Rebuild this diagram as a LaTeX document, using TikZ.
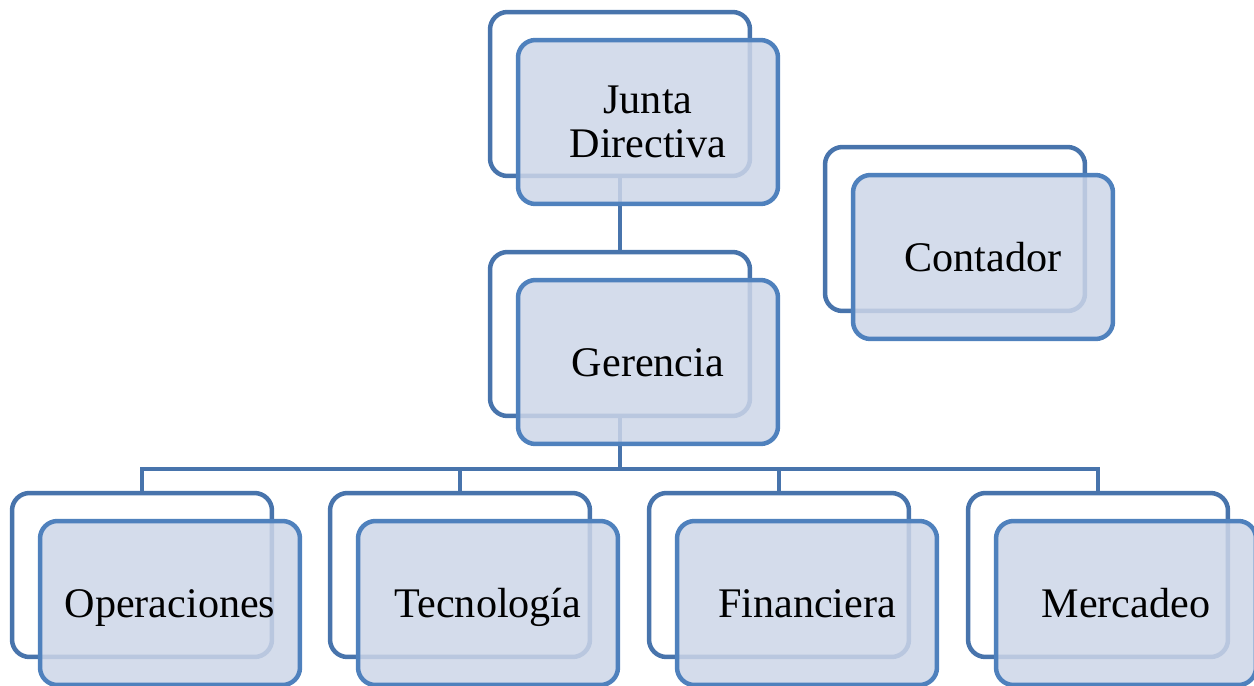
\documentclass[tikz,border=0pt]{standalone}
\usepackage{fontspec}
\setmainfont{Liberation Serif}
\definecolor{backline}{RGB}{72,116,172}
\definecolor{frontline}{RGB}{79,129,189}
\definecolor{frontfill}{RGB}{205,214,232}
\begin{document}
\begin{tikzpicture}[x=0.02cm,y=-0.02cm]
\tikzstyle{back}=[draw=backline,line width=0.09cm,fill=white,rounded corners=0.35cm,minimum width=5.2cm,minimum height=3.28cm,inner sep=0pt]
\tikzstyle{front}=[back,draw=frontline,fill=frontfill,fill opacity=0.85,text opacity=1,align=center,font=\fontsize{24}{25}\selectfont]
\tikzstyle{oneline}=[front,text height=16pt,text depth=0pt]
\tikzstyle{link}=[draw=backline,line width=0.09cm]
    \useasboundingbox (0,0) rectangle (1254,686);
    \node[back] (jb) at (620,94) {};
    \node[back] (gb) at (620,334) {};
    \node[back] (cb) at (955,229) {};
    \node[back] (ob) at (142,575) {};
    \node[back] (tb) at (460,575) {};
    \node[back] (fb) at (779,575) {};
    \node[back] (mb) at (1098,575) {};
    \coordinate (bus) at (620,469);
    \draw [link] (jb) -- (gb);
    \draw [link] (gb) -- (bus) -| (ob);
    \draw [link] (bus) -| (tb);
    \draw [link] (bus) -| (fb);
    \draw [link] (bus) -| (mb);
    \node[front] (j) at (648,122) {Junta\\Directiva};
    \node[oneline] (g) at (648,362) {Gerencia};
    \node[oneline] (c) at (983,257) {Contador};
    \node[oneline] (o) at (170,603) {Operaciones};
    \node[oneline] (t) at (488,603) {Tecnología};
    \node[oneline] (f) at (807,603) {Financiera};
    \node[oneline] (m) at (1126,603) {Mercadeo};
\end{tikzpicture}
\end{document}
